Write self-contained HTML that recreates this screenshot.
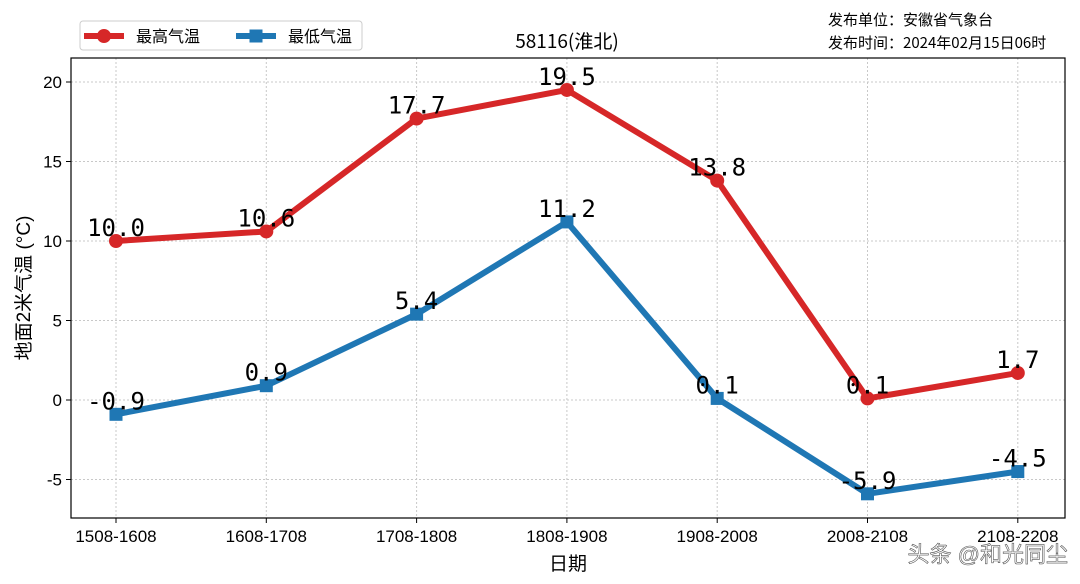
<!DOCTYPE html>
<html><head><meta charset="utf-8"><style>
body{margin:0;background:#fff;}
svg{display:block;font-family:"Liberation Sans","Noto Sans CJK SC",sans-serif;}
</style></head><body>
<svg id="chart" width="1080" height="584" viewBox="0 0 1080 584"></svg>
<script>
const categories=["1508-1608","1608-1708","1708-1808","1808-1908","1908-2008","2008-2108","2108-2208"];
const maxTemps=[10.0,10.6,17.7,19.5,13.8,0.1,1.7];
const minTemps=[-0.9,0.9,5.4,11.2,0.1,-5.9,-4.5];
const yTicks=[-5,0,5,10,15,20];
const L=71,R=1065,T=58,B=518;
const x0=116,dx=150.3;
function xs(i){return x0+i*dx;}
function ys(v){return 400-v*15.9;}
const NS="http://www.w3.org/2000/svg";
const svg=document.getElementById('chart');
function mk(tag,attrs,parent){const e=document.createElementNS(NS,tag);for(const k in attrs)e.setAttribute(k,attrs[k]);(parent||svg).appendChild(e);return e;}
function tx(str,attrs){const e=mk('text',attrs);e.textContent=str;return e;}
categories.forEach((c,i)=>{
 const g=mk('line',{x1:xs(i),x2:xs(i),y1:T,y2:B,stroke:'#c8c8c8','stroke-dasharray':'2,2'});
 
 
 mk('line',{x1:xs(i),x2:xs(i),y1:B,y2:B+5,stroke:'#000'});
 const l=tx(c,{x:xs(i),y:B+24,'text-anchor':'middle','font-size':17,fill:'#000'});
 
 
});
yTicks.forEach(v=>{
 const g=mk('line',{x1:L,x2:R,y1:ys(v),y2:ys(v),stroke:'#c8c8c8','stroke-dasharray':'2,2'});
 
 
 mk('line',{x1:L-5,x2:L,y1:ys(v),y2:ys(v),stroke:'#000'});
 const l=tx(String(v),{x:L-9,y:ys(v)+6,'text-anchor':'end','font-size':17,fill:'#000'});
 
 
});
const frame=mk('rect',{x:L,y:T,width:R-L,height:B-T,fill:'none',stroke:'#000','stroke-width':1.2});


function series(vals,color,marker,name){
 const p=mk('polyline',{points:vals.map((v,i)=>xs(i)+','+ys(v)).join(' '),fill:'none',stroke:color,'stroke-width':6,'stroke-linejoin':'round'});
 
 
 vals.forEach((v,i)=>{
  let m;
  if(marker==='o')m=mk('circle',{cx:xs(i),cy:ys(v),r:7,fill:color});
  else m=mk('rect',{x:xs(i)-6.5,y:ys(v)-6.5,width:13,height:13,fill:color});
  
  
  const l=tx(v.toFixed(1),{x:xs(i),y:ys(v)-5,'text-anchor':'middle','font-size':24,fill:'#000','font-family':'"DejaVu Sans Mono","Liberation Mono",monospace'});
  
  
 });
}
series(maxTemps,'#d62728','o','max-temp');
series(minTemps,'#1f77b4','s','min-temp');
const lg=mk('rect',{x:80,y:21,width:282,height:29,rx:3,fill:'#fff',stroke:'#ccc'});


mk('line',{x1:84,x2:124,y1:36,y2:36,stroke:'#d62728','stroke-width':6});
mk('circle',{cx:104,cy:36,r:7,fill:'#d62728'});
const le1=tx('最高气温',{x:136,y:42,'font-size':16,'font-family':'"Noto Sans CJK SC",sans-serif'});


mk('line',{x1:236,x2:276,y1:36,y2:36,stroke:'#1f77b4','stroke-width':6});
mk('rect',{x:249.5,y:29.5,width:13,height:13,fill:'#1f77b4'});
const le2=tx('最低气温',{x:288,y:42,'font-size':16,'font-family':'"Noto Sans CJK SC",sans-serif'});


const ti=tx('58116(淮北)',{x:567,y:48,'text-anchor':'middle','font-size':19,'font-family':'"Noto Sans CJK SC",sans-serif'});


const i1=tx('发布单位：安徽省气象台',{x:828,y:25,'font-size':15,'font-family':'"Noto Sans CJK SC",sans-serif'});


const i2=tx('发布时间：2024年02月15日06时',{x:828,y:48,'font-size':15,'font-family':'"Noto Sans CJK SC",sans-serif'});


const xt=tx('日期',{x:568,y:570,'text-anchor':'middle','font-size':19});


const yt=tx('地面2米气温 (°C)',{x:0,y:0,'text-anchor':'middle','font-size':19,transform:'translate(30,288) rotate(-90)'});


const wm=tx('头条 @和光同尘',{x:1068,y:562,'text-anchor':'end','font-size':22,fill:'#fff',stroke:'#555','stroke-width':0.6});


</script>
</body></html>
